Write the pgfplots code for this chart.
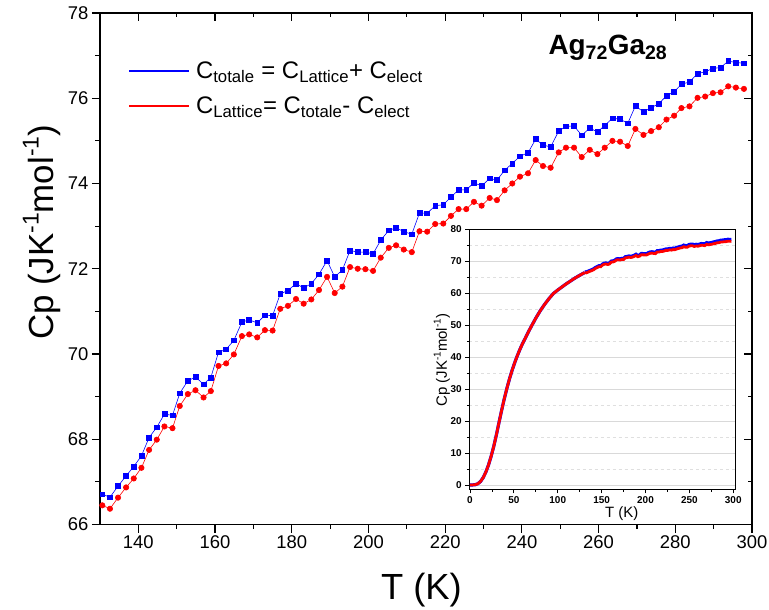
\documentclass[border=0pt]{standalone}
\usepackage{fontspec}
\setmainfont{Liberation Sans}
\usepackage{pgfplots}
\pgfplotsset{compat=1.18}
\usepackage{pgfplotstable}
\newcommand{\sups}[2]{\raisebox{#1}{\fontsize{#2}{#2}\selectfont -1}}

\pgfplotstableread{
T Cp
130.6 66.71
132.6 66.64
134.7 66.90
136.8 67.14
138.8 67.36
140.8 67.61
142.8 68.04
144.8 68.28
146.8 68.59
148.9 68.56
150.8 69.08
152.9 69.37
154.9 69.46
157.0 69.29
158.9 69.45
160.9 70.04
162.9 70.11
164.9 70.32
167.0 70.75
168.9 70.80
171.0 70.73
173.0 70.91
175.0 70.90
177.0 71.41
179.0 71.49
181.1 71.65
183.1 71.55
185.1 71.65
187.1 71.87
189.2 72.19
191.2 71.81
193.2 71.97
195.2 72.43
197.2 72.39
199.2 72.39
201.2 72.35
203.2 72.67
205.3 72.90
207.2 72.96
209.2 72.87
211.3 72.81
213.3 73.31
215.3 73.30
217.4 73.48
219.5 73.50
221.5 73.68
223.5 73.85
225.5 73.85
227.5 74.02
229.5 73.94
231.6 74.12
233.5 74.08
235.5 74.31
237.5 74.47
239.5 74.64
241.6 74.72
243.6 75.04
245.5 74.90
247.5 74.86
249.6 75.23
251.5 75.34
253.6 75.35
255.6 75.13
257.7 75.30
259.7 75.21
261.6 75.36
263.6 75.53
265.6 75.51
267.6 75.41
269.6 75.82
271.7 75.68
273.7 75.78
275.7 75.87
277.7 76.06
279.7 76.15
281.6 76.33
283.7 76.38
285.8 76.58
287.8 76.62
289.8 76.70
291.8 76.72
293.8 76.87
295.8 76.84
297.9 76.82
}\bluedata

\pgfplotstableread{
T Cp
130.6 66.45
132.6 66.37
134.7 66.63
136.8 66.87
138.8 67.08
140.8 67.33
142.8 67.75
144.8 67.99
146.8 68.30
148.9 68.26
150.8 68.78
152.9 69.06
154.9 69.15
157.0 68.98
158.9 69.13
160.9 69.72
162.9 69.78
164.9 69.99
167.0 70.42
168.9 70.46
171.0 70.39
173.0 70.56
175.0 70.55
177.0 71.06
179.0 71.13
181.1 71.29
183.1 71.18
185.1 71.28
187.1 71.50
189.2 71.81
191.2 71.43
193.2 71.58
195.2 72.04
197.2 72.00
199.2 71.99
201.2 71.95
203.2 72.26
205.3 72.49
207.2 72.55
209.2 72.45
211.3 72.39
213.3 72.88
215.3 72.87
217.4 73.05
219.5 73.06
221.5 73.24
223.5 73.40
225.5 73.40
227.5 73.57
229.5 73.48
231.6 73.66
233.5 73.61
235.5 73.84
237.5 74.00
239.5 74.16
241.6 74.24
243.6 74.55
245.5 74.41
247.5 74.37
249.6 74.73
251.5 74.84
253.6 74.84
255.6 74.62
257.7 74.79
259.7 74.69
261.6 74.84
263.6 75.00
265.6 74.98
267.6 74.88
269.6 75.28
271.7 75.14
273.7 75.23
275.7 75.32
277.7 75.50
279.7 75.59
281.6 75.77
283.7 75.81
285.8 76.01
287.8 76.04
289.8 76.12
291.8 76.14
293.8 76.28
295.8 76.25
297.9 76.22
}\reddata

\pgfplotstableread{
T Cp
0 0
3 0.02
6 0.1
9 0.4
12 1.1
15 2.3
18 4.0
21 6.2
24 8.9
27 12.0
30 15.6
33 19.5
36 23.3
39 26.9
42 30.2
45 33.2
48 35.9
51 38.3
54 40.5
57 42.5
60 44.3
63 45.9
66 47.6
70 49.7
75 52.2
80 54.5
85 56.5
90 58.3
95 59.9
100 61.0
105 62.0
110 63.0
115 63.9
120 64.8
125 65.6
130.6 66.45
}\lowdata

\begin{document}
\begin{tikzpicture}
\useasboundingbox (-100bp,-85.5bp) rectangle (669bp,524.5bp);
\begin{axis}[
  at={(0,0)}, anchor=south west,
  scale only axis, width=652bp, height=511.5bp,
  xmin=130, xmax=300, ymin=66, ymax=78,
  xtick={140,160,...,300}, ytick={66,68,...,78},
  minor x tick num=1, minor y tick num=1,
  xtick pos=left, ytick pos=left,
  tick align=outside,
  major tick length=8bp, minor tick length=4.5bp,
  axis line style={line width=1.2bp},
  every tick/.style={black, line width=1.2bp},
  tick label style={font=\fontsize{18.5}{20}\selectfont},
  /pgf/number format/assume math mode=true,
  xlabel={T (K)},
  ylabel={Cp (JK\sups{0.42em}{23}mol\sups{0.42em}{23})},
  label style={font=\fontsize{35}{40}\selectfont},
  xlabel style={font=\fontsize{36.5}{40}\selectfont, at={(axis description cs:0.493,-0.1457)}, anchor=base, inner sep=0pt},
  ylabel style={at={(axis description cs:-0.0716,0.571)}, anchor=base, inner sep=0pt},
  legend style={draw=none, fill=none, at={(axis description cs:0.043,0.909)}, anchor=north west,
    font=\fontsize{24}{29}\selectfont, row sep=13bp, inner sep=0pt, nodes={inner sep=2bp}},
  legend cell align=left,
]
\addplot[blue, line width=0.6bp, mark=square*, mark size=2.4bp, forget plot] table[x=T,y=Cp]{\bluedata};
\addplot[red, line width=0.6bp, mark=*, mark size=2.7bp, forget plot] table[x=T,y=Cp]{\reddata};
\addlegendimage{legend image code/.code={\draw[blue, line width=1.8bp] (0bp,0bp) -- (60bp,0bp);}}
\addlegendentry{\hspace{4bp}C\textsubscript{totale} = C\textsubscript{Lattice}+ C\textsubscript{elect}}
\addlegendimage{legend image code/.code={\draw[red, line width=1.8bp] (0bp,0bp) -- (60bp,0bp);}}
\addlegendentry{\hspace{4bp}C\textsubscript{Lattice}= C\textsubscript{totale}- C\textsubscript{elect}}
\node[font=\fontsize{28}{32}\selectfont\bfseries] at (rel axis cs:0.779,0.9316) {Ag\textsubscript{72}Ga\textsubscript{28}};
\end{axis}
\begin{axis}[
  at={(0,0)}, anchor=south west,
  scale only axis, width=652bp, height=511.5bp,
  xmin=130, xmax=300, ymin=66, ymax=78,
  xtick={140,160,...,300}, ytick={66,68,...,78},
  minor x tick num=1, minor y tick num=1,
  xtick pos=right, ytick pos=right,
  tick align=inside,
  major tick length=8bp, minor tick length=4.5bp,
  axis line style={draw=none},
  every tick/.style={black, line width=1.2bp},
  xticklabels={}, yticklabels={},
]
\end{axis}
\begin{axis}[
  at={(369.3bp,35.2bp)}, anchor=south west,
  scale only axis, width=265.7bp, height=260bp,
  xmin=-0.8, xmax=302, ymin=-1.35, ymax=80,
  xtick={0,50,...,300}, ytick={0,10,...,80},
  minor x tick num=1, minor y tick num=1,
  xtick pos=left, ytick pos=left,
  tick align=outside,
  major tick length=4bp, minor tick length=2.5bp,
  axis line style={line width=0.9bp},
  every tick/.style={black, line width=0.8bp},
  ymajorgrids, yminorgrids,
  major grid style={gray!30, line width=0.6bp},
  minor grid style={gray!25, dashed, line width=0.5bp},
  axis background/.style={fill=white},
  tick label style={font=\fontsize{10}{12}\selectfont\bfseries},
  /pgf/number format/assume math mode=true,
  xlabel={T (K)},
  ylabel={Cp (JK\sups{0.42em}{10}mol\sups{0.42em}{10})},
  label style={font=\fontsize{15}{17}\selectfont},
  xlabel style={at={(axis description cs:0.574,-0.110)}, anchor=base, inner sep=0pt},
  ylabel style={at={(axis description cs:-0.084,0.497)}, anchor=base, inner sep=0pt},
]
\addplot[blue, line width=3.2bp, no markers] table[x=T,y=Cp]{\lowdata};
\addplot[blue, line width=3.2bp, no markers] table[x=T,y=Cp]{\bluedata};
\addplot[red, line width=2.8bp, no markers] table[x=T,y=Cp]{\lowdata};
\addplot[red, line width=2.8bp, no markers] table[x=T,y=Cp]{\reddata};
\end{axis}
\end{tikzpicture}
\end{document}
